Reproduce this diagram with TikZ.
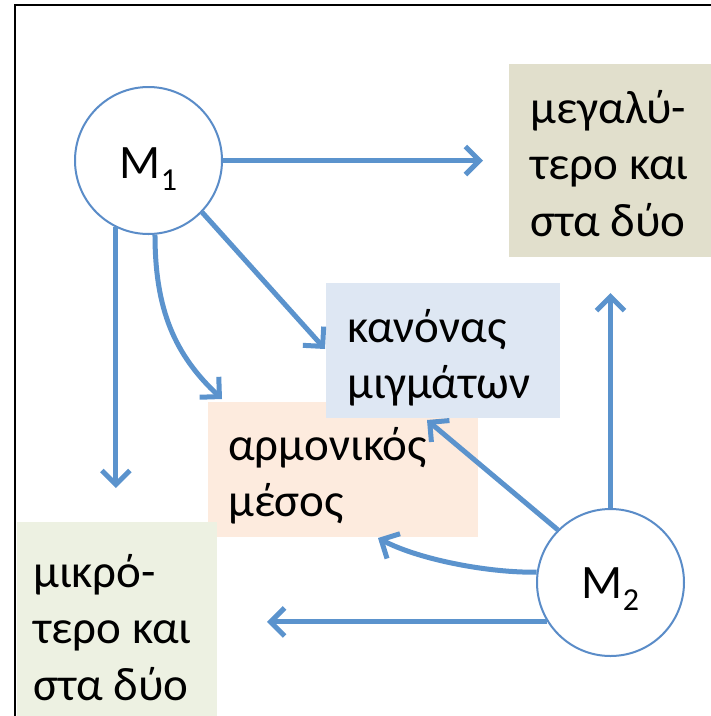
\documentclass[tikz,border=0pt]{standalone}
\usepackage{fontspec}
\setmainfont{Carlito}
\usetikzlibrary{arrows.meta}
\definecolor{arrowblue}{RGB}{91,147,205}
\definecolor{circblue}{RGB}{90,140,200}
\definecolor{tanfill}{RGB}{225,223,204}
\definecolor{bluefill}{RGB}{222,231,243}
\definecolor{peachfill}{RGB}{253,235,222}
\definecolor{greenfill}{RGB}{237,241,226}
\begin{document}
\begin{tikzpicture}[x=1pt,y=-1pt,
  arr/.style={draw=arrowblue, line width=5pt, -{Straight Barb[length=14pt,width=28pt]}},
  circ/.style={circle, draw=circblue, line width=2pt, fill=white, minimum size=147pt, inner sep=0pt},
  box/.style={rectangle, inner sep=0pt, anchor=north west},
  txt/.style={anchor=base west, inner sep=0pt, font=\fontsize{47}{56.5}\selectfont},
  mlabel/.style={anchor=base, inner sep=0pt, font=\fontsize{48}{48}\selectfont}]
\useasboundingbox (0,0) rectangle (711,716);
\fill[white] (0,0) rectangle (711,716);
% frame
\draw[line width=2pt] (15,716) -- (15,5) -- (711,5);
% boxes
\node[box, fill=tanfill, minimum width=202pt, minimum height=193pt] (big) at (509,64) {};
\node[box, fill=peachfill, minimum width=270pt, minimum height=135pt] (harm) at (208,402) {};
\node[box, fill=bluefill, minimum width=234pt, minimum height=135pt] (rule) at (326,283) {};
\node[box, fill=greenfill, minimum width=200pt, minimum height=194pt] (small) at (17,522) {};
% box texts
\node[txt] (bigt) at (530,123) {\parbox[t]{200pt}{\raggedright μεγαλύ-\\τερο και\\στα δύο}};
\node[txt] (rulet) at (347,342) {\parbox[t]{220pt}{\raggedright κανόνας\\μιγμάτων}};
\node[txt] (harmt) at (228,460) {\parbox[t]{240pt}{\raggedright αρμονικός\\μέσος}};
\node[txt] (smallt) at (33,587) {\parbox[t]{200pt}{\raggedright μικρό-\\τερο και\\στα δύο}};
% circles
\node[circ] (m1) at (148.5,160.5) {};
\node[circ] (m2) at (610.5,582.5) {};
\node[mlabel] (m1t) at (148.5,178) {M\raisebox{-12pt}{\fontsize{32}{32}\selectfont 1}};
\node[mlabel] (m2t) at (610.5,598) {M\raisebox{-12pt}{\fontsize{32}{32}\selectfont 2}};
% arrow tips
\coordinate (t1) at (483,160.5);
\coordinate (t2) at (325,349);
\coordinate (t3) at (222,399);
\coordinate (t4) at (115,488);
\coordinate (t5) at (427,420);
\coordinate (t6) at (378,538);
\coordinate (t7) at (267,622);
\coordinate (t8) at (610.5,293);
% arrows
\draw[arr] (m1.east) -- (t1);
\draw[arr] (m1.-44) -- (t2);
\draw[arr] (m1.-85) .. controls (155,310) and (175,355) .. (t3);
\draw[arr] (m1.-116.7) -- (m1.-116.7 |- t4);
\draw[arr] (m2.135.5) -- (t5);
\draw[arr] (m2.172.6) .. controls (490,573) and (420,560) .. (t6);
\draw[arr] (m2.212) -- (m2.212 -| t7);
\draw[arr] (m2.north) -- (t8);
\end{tikzpicture}
\end{document}
